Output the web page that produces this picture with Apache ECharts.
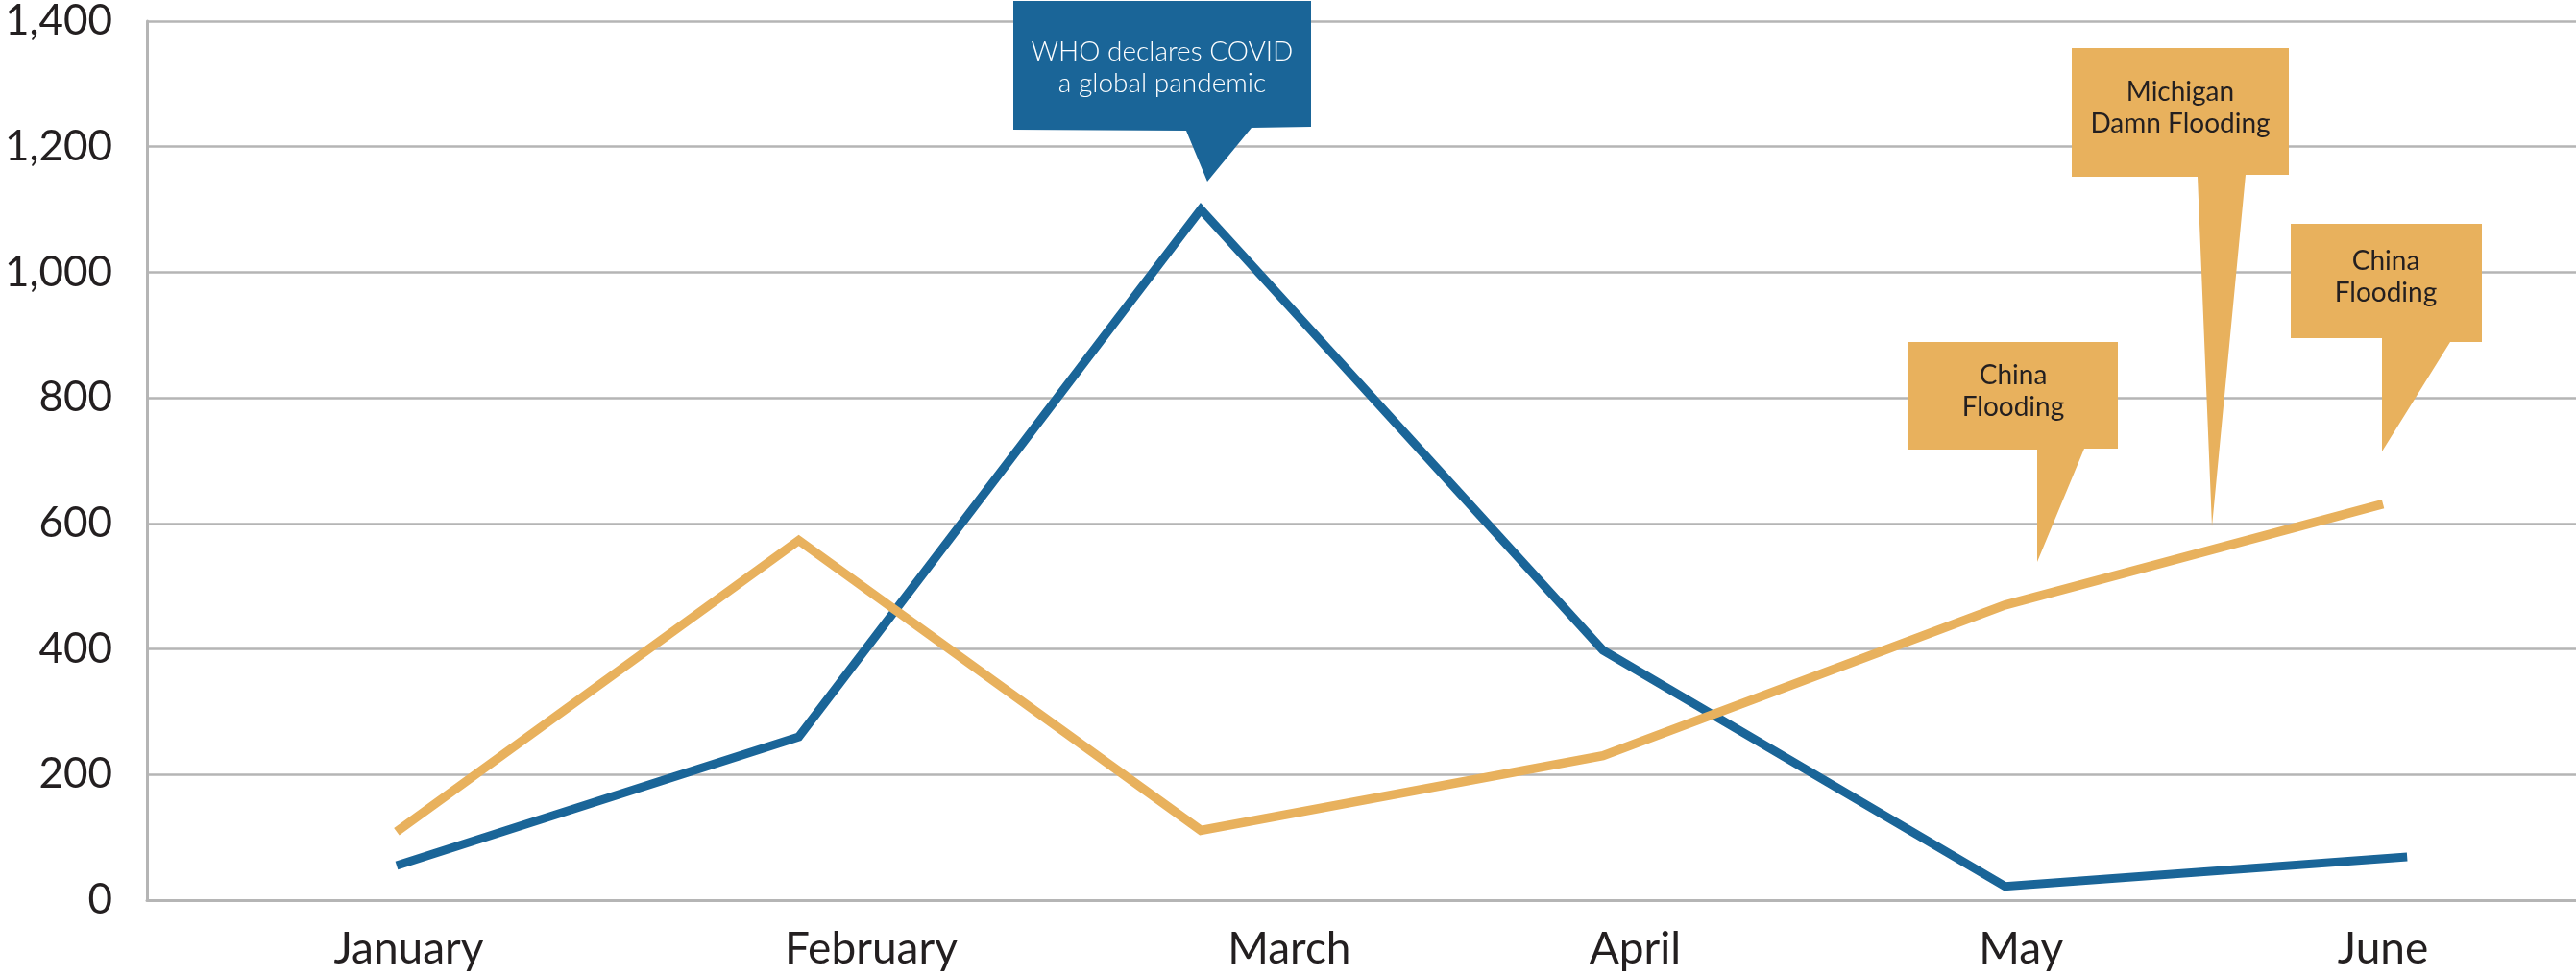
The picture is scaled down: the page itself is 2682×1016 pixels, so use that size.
<!DOCTYPE html>
<html>
<head>
<meta charset="utf-8">
<title>Events chart</title>
<script src="https://cdn.jsdelivr.net/npm/echarts@6/dist/echarts.min.js"></script>
<style>
  html, body { margin: 0; padding: 0; background: #fff; }
  #chart { width: 2682px; height: 1016px; }
</style>
</head>
<body>
<div id="chart"></div>
<script>
// months and where their labels sit on the x axis
const months = ['January', 'February', 'March', 'April', 'May', 'June']
const monthAt = [0.03, 1.18, 2.22, 3.08, 4.04, 4.94]

// blue line
const blueX = [0, 1, 2, 3, 4, 5]
const blueValues = [55, 260, 1100, 398, 22, 69]

// orange line
const orangeX = [0, 1, 2, 3, 4, 4.94]
const orangeValues = [109, 573, 111, 230, 470, 631]

const yTicks = [0, 200, 400, 600, 800, 1000, 1200, 1400]

const BLUE = '#1a6598'
const ORANGE = '#e8b15d'
const TEXT = '#231f20'
const GRID = '#b5b5b5'

// callout boxes (pixel layout, drawn on top of the chart)
const callouts = [
  {
    text: 'WHO declares COVID\na global pandemic',
    fill: BLUE, color: '#fff', weight: 300,
    points: [[1055, 1], [1365, 1], [1365, 132], [1303, 133], [1257, 189], [1235, 136], [1055, 135]],
    at: [1210, 70]
  },
  {
    text: 'Michigan\nDamn Flooding',
    fill: ORANGE, color: TEXT, weight: 400,
    points: [[2157, 50], [2383, 50], [2383, 182], [2338, 182], [2303, 548], [2288, 184], [2157, 184]],
    at: [2270, 112]
  },
  {
    text: 'China\nFlooding',
    fill: ORANGE, color: TEXT, weight: 400,
    points: [[1987, 356], [2205, 356], [2205, 467], [2170, 467], [2121, 585], [2121, 468], [1987, 468]],
    at: [2096, 407]
  },
  {
    text: 'China\nFlooding',
    fill: ORANGE, color: TEXT, weight: 400,
    points: [[2385, 233], [2584, 233], [2584, 356], [2551, 356], [2480, 470], [2480, 352], [2385, 352]],
    at: [2484, 288]
  }
]

const monthName = v => {
  for (let i = 0; i < monthAt.length; i++) {
    if (Math.abs(v - monthAt[i]) < 1e-6) return months[i]
  }
  return ''
}

const chart = echarts.init(document.getElementById('chart'))

const graphic = []
callouts.forEach(c => {
  graphic.push({
    type: 'polygon',
    z: 100,
    shape: { points: c.points },
    style: { fill: c.fill }
  })
  graphic.push({
    type: 'text',
    z: 101,
    x: c.at[0],
    y: c.at[1],
    style: {
      text: c.text,
      fill: c.color,
      font: c.weight + ' 28px Lato',
      lineHeight: 33,
      align: 'center',
      verticalAlign: 'middle'
    }
  })
})

chart.setOption({
  backgroundColor: '#fff',
  animation: false,
  grid: {
    left: 153,
    right: 0,
    top: 22,
    bottom: 79,
    containLabel: false
  },
  xAxis: {
    type: 'value',
    min: -0.621,
    max: 5.42,
    splitLine: { show: false },
    axisTick: { show: false },
    axisLine: {
      show: true,
      onZero: false,
      lineStyle: { color: GRID, width: 3 }
    },
    axisLabel: {
      customValues: monthAt,
      formatter: v => monthName(v),
      showMinLabel: true,
      showMaxLabel: true,
      hideOverlap: false,
      color: TEXT,
      fontFamily: 'Lato',
      fontSize: 46,
      margin: 28
    }
  },
  yAxis: {
    type: 'value',
    min: yTicks[0],
    max: yTicks[yTicks.length - 1],
    interval: 200,
    axisLine: {
      show: true,
      onZero: false,
      lineStyle: { color: GRID, width: 3 }
    },
    axisTick: { show: false },
    splitLine: {
      lineStyle: { color: GRID, width: 2.5 }
    },
    axisLabel: {
      formatter: v => v.toLocaleString('en-US'),
      color: TEXT,
      fontFamily: 'Lato',
      fontSize: 44,
      margin: 36
    }
  },
  series: [
    {
      name: 'series1',
      type: 'line',
      data: blueX.map((x, i) => [x, blueValues[i]]),
      showSymbol: false,
      lineStyle: { color: BLUE, width: 9, join: 'miter', cap: 'butt' },
      itemStyle: { color: BLUE }
    },
    {
      name: 'series2',
      type: 'line',
      data: orangeX.map((x, i) => [x, orangeValues[i]]),
      showSymbol: false,
      lineStyle: { color: ORANGE, width: 9.5, join: 'miter', cap: 'butt' },
      itemStyle: { color: ORANGE }
    }
  ],
  graphic: graphic
})
</script>
</body>
</html>
